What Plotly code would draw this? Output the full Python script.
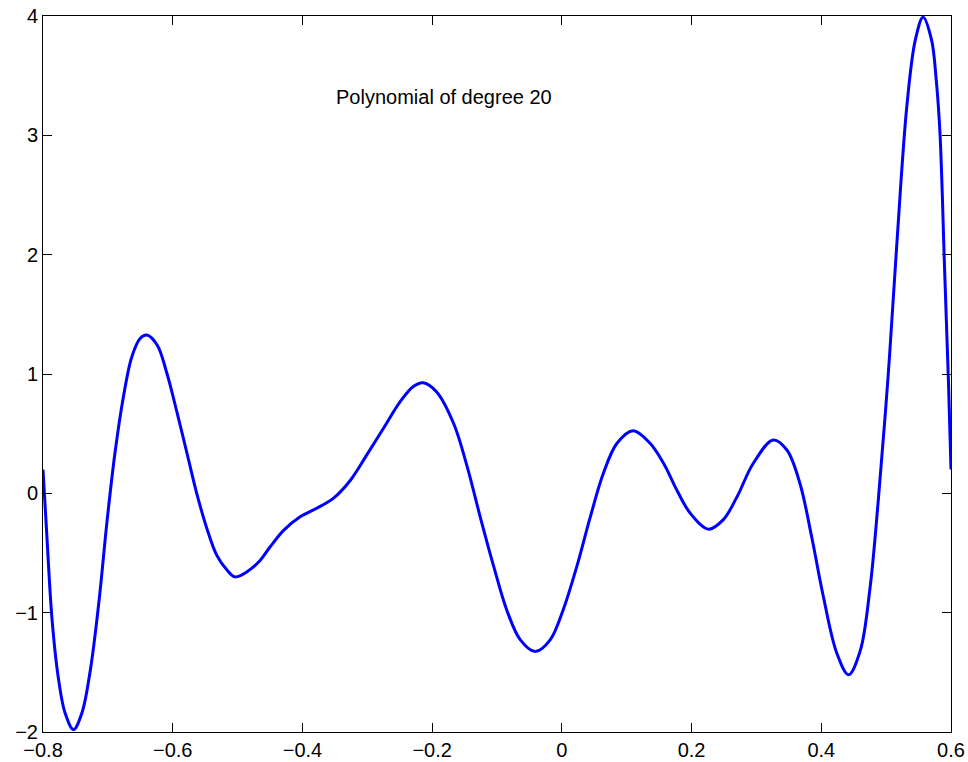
import plotly.graph_objects as go

# Values
x_vals = [-0.800, -0.794, -0.786, -0.776, -0.766, -0.753, -0.740, -0.727, -0.714, -0.701,
          -0.689, -0.676, -0.663, -0.650, -0.640, -0.624, -0.609, -0.593, -0.578, -0.563,
          -0.547, -0.532, -0.516, -0.504, -0.486, -0.465, -0.450, -0.429, -0.403, -0.378,
          -0.352, -0.326, -0.301, -0.275, -0.249, -0.229, -0.214, -0.193, -0.167, -0.146,
          -0.126, -0.105, -0.085, -0.064, -0.041, -0.018, 0.002, 0.023, 0.044, 0.064,
          0.085, 0.110, 0.136, 0.157, 0.177, 0.198, 0.226, 0.249, 0.270, 0.295,
          0.326, 0.347, 0.367, 0.385, 0.403, 0.424, 0.442, 0.460, 0.475, 0.488,
          0.503, 0.516, 0.532, 0.545, 0.557, 0.570, 0.577, 0.583, 0.590, 0.596, 0.600]
y_vals = [0.20, -0.36, -1.06, -1.56, -1.84, -1.98, -1.84, -1.48, -0.92, -0.22,
          0.34, 0.81, 1.145, 1.30, 1.327, 1.243, 1.006, 0.67, 0.336, 0.0,
          -0.30, -0.52, -0.645, -0.70, -0.66, -0.56, -0.45, -0.31, -0.195, -0.125,
          -0.04, 0.11, 0.32, 0.545, 0.77, 0.895, 0.927, 0.85, 0.587, 0.224,
          -0.195, -0.614, -0.977, -1.228, -1.326, -1.228, -0.977, -0.614, -0.195, 0.168,
          0.42, 0.525, 0.42, 0.25, 0.03, -0.167, -0.30, -0.22, -0.03, 0.25,
          0.447, 0.363, 0.085, -0.36, -0.86, -1.34, -1.52, -1.32, -0.80, -0.05,
          0.98, 2.05, 3.25, 3.80, 3.99, 3.80, 3.48, 3.02, 1.90, 0.95, 0.20]

x_ticks = [-0.8, -0.6, -0.4, -0.2, 0, 0.2, 0.4, 0.6]
x_tick_labels = ["\u22120.8", "\u22120.6", "\u22120.4", "\u22120.2", "0", "0.2", "0.4", "0.6"]
y_ticks = [-2, -1, 0, 1, 2, 3, 4]
y_tick_labels = ["\u22122", "\u22121", "0", "1", "2", "3", "4"]

title_text = "Polynomial of degree 20"
title_pos = (-0.181, 3.32)

FONT = "Liberation Sans, Arial, Helvetica, sans-serif"

fig = go.Figure()
fig.add_trace(go.Scatter(x=x_vals, y=y_vals, mode="lines",
                         line=dict(color="#0000ff", width=3, shape="spline", smoothing=1.0),
                         showlegend=False, hoverinfo="skip"))

fig.add_annotation(x=title_pos[0], y=title_pos[1], text=title_text, showarrow=False,
                   xanchor="center", yanchor="middle",
                   font=dict(family=FONT, size=20, color="black"))

axis_common = dict(showline=True, linecolor="black", linewidth=1, mirror="ticks",
                   ticks="inside", ticklen=9, tickwidth=1, tickcolor="black",
                   showgrid=False, zeroline=False, automargin=False,
                   tickfont=dict(family=FONT, size=20, color="black"))

fig.update_xaxes(range=[-0.8, 0.6], tickvals=x_ticks, ticktext=x_tick_labels, **axis_common)
fig.update_yaxes(range=[-2, 4], tickvals=y_ticks, ticktext=y_tick_labels, **axis_common)

fig.update_layout(width=968, height=762, autosize=False,
                  margin=dict(l=43, r=17, t=16, b=30, pad=0),
                  paper_bgcolor="white", plot_bgcolor="white",
                  font=dict(family=FONT, color="black"))

fig.write_html("out.html", config={"displayModeBar": False},
               post_script="document.body.style.margin='0';document.body.style.overflow='hidden';")
